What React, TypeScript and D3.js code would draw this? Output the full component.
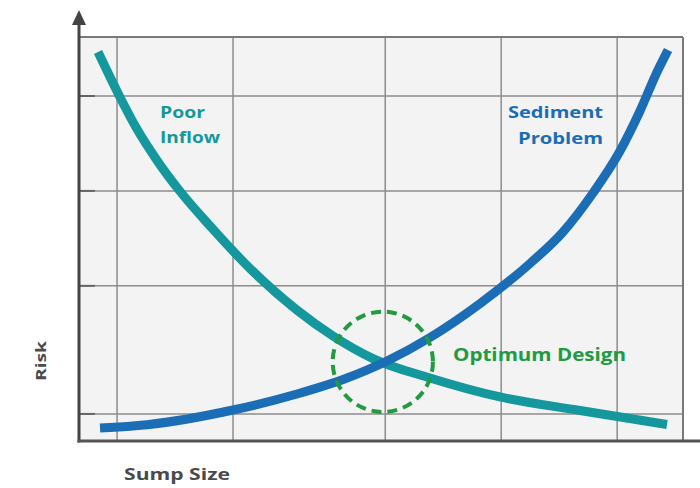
import React from "react";
import * as d3 from "d3";

// Data (x: sump size 0-100, y: risk 0-100)
const poorInflowX = [3.15, 6.79, 9.6, 13.08, 16.72, 22.19, 28.31, 36.09, 42.05, 48.68, 58.11, 69.7, 82.95, 97.35];
const poorInflowY = [96.3, 85.1, 77.2, 69.1, 61.8, 52.4, 42.7, 32.4, 26.0, 20.4, 15.6, 10.9, 7.55, 4.08];
const sedimentX = [3.48, 11.26, 25.5, 36.09, 44.37, 50.99, 58.11, 66.39, 74.67, 80.13, 85.1, 89.57, 92.88, 95.7, 97.52];
const sedimentY = [3.22, 4.03, 7.67, 11.63, 15.59, 19.8, 25.62, 34.03, 43.94, 51.73, 61.39, 71.78, 81.68, 91.34, 96.78];
const xGrid = [6.3, 25.5, 50.7, 69.9, 89.1];
const yGrid = [85.4, 61.9, 38.4, 6.7];
const optimum = { x: 50.3, y: 19.6, r: 8.3 };
const labels = {
  poor: ["Poor", "Inflow"],
  sediment: ["Sediment", "Problem"],
  optimum: "Optimum Design",
  xTitle: "Sump Size",
  yTitle: "Risk",
};

const W = 700;
const H = 488;
const left = 79;
const right = 683;
const top = 37;
const bottom = 441;

export default function App() {
  const x = d3.scaleLinear().domain([0, 100]).range([left, right]);
  const y = d3.scaleLinear().domain([0, 100]).range([bottom, top]);
  const line = d3
    .line<[number, number]>()
    .x((d) => x(d[0]))
    .y((d) => y(d[1]))
    .curve(d3.curveMonotoneX);
  const poorPts = poorInflowX.map((v, i) => [v, poorInflowY[i]] as [number, number]);
  const sedPts = sedimentX.map((v, i) => [v, sedimentY[i]] as [number, number]);
  const font = "'Open Sans', 'DejaVu Sans', sans-serif";
  const teal = "#15989d";
  const blue = "#1b6db6";
  const green = "#219a41";
  const rPx = x(optimum.r) - x(0);

  return (
    <svg
      width={W}
      height={H}
      style={{ position: "absolute", left: 0, top: 0, background: "#fff" }}
      fontFamily={font}
    >
      <rect x={left} y={top} width={right - left} height={bottom - top} fill="#f3f3f3" />
      {xGrid.map((g, i) => (
        <line key={"xg" + i} x1={x(g)} x2={x(g)} y1={top} y2={bottom} stroke="#8c8c8c" strokeWidth={1.5} />
      ))}
      {yGrid.map((g, i) => (
        <line key={"yg" + i} x1={left} x2={right} y1={y(g)} y2={y(g)} stroke="#8c8c8c" strokeWidth={1.5} />
      ))}
      {yGrid.map((g, i) => (
        <line key={"yt" + i} x1={left} x2={left + 16} y1={y(g)} y2={y(g)} stroke="#666" strokeWidth={2} />
      ))}
      <line x1={left} x2={right} y1={top} y2={top} stroke="#7a7a7a" strokeWidth={2} />
      <line x1={right} x2={right} y1={top} y2={bottom} stroke="#7a7a7a" strokeWidth={2} />
      {/* axes */}
      <line x1={left} x2={left} y1={22} y2={bottom + 1.5} stroke="#444" strokeWidth={3} />
      <path d={`M${left},10 L${left - 7},25 L${left + 7},25 Z`} fill="#444" />
      <line x1={left - 1.5} x2={700} y1={bottom} y2={bottom} stroke="#555" strokeWidth={3} />
      {/* curves */}
      <path d={line(poorPts) || ""} fill="none" stroke={teal} strokeWidth={9} strokeLinecap="butt" />
      <path d={line(sedPts) || ""} fill="none" stroke={blue} strokeWidth={9} strokeLinecap="butt" />
      {/* optimum circle */}
      <circle
        cx={x(optimum.x)}
        cy={y(optimum.y)}
        r={rPx}
        fill="none"
        stroke={green}
        strokeWidth={4}
        strokeDasharray="10 6"
      />
      {/* labels */}
      <text x={160} y={118} fill={teal} fontSize={16} fontWeight="bold" textLength={45} lengthAdjust="spacingAndGlyphs">
        {labels.poor[0]}
      </text>
      <text x={160} y={143} fill={teal} fontSize={16} fontWeight="bold" textLength={60} lengthAdjust="spacingAndGlyphs">
        {labels.poor[1]}
      </text>
      <text x={603} y={118} fill={blue} fontSize={16} fontWeight="bold" textAnchor="end" textLength={95} lengthAdjust="spacingAndGlyphs">
        {labels.sediment[0]}
      </text>
      <text x={603} y={144} fill={blue} fontSize={16} fontWeight="bold" textAnchor="end" textLength={85} lengthAdjust="spacingAndGlyphs">
        {labels.sediment[1]}
      </text>
      <text x={453} y={361} fill={green} fontSize={17} fontWeight="bold" textLength={173} lengthAdjust="spacingAndGlyphs">
        {labels.optimum}
      </text>
      <text x={124} y={480} fill="#4a4a4a" fontSize={16} fontWeight="bold" textLength={106} lengthAdjust="spacingAndGlyphs">
        {labels.xTitle}
      </text>
      <text
        transform="translate(46,361) rotate(-90)"
        textAnchor="middle"
        fill="#4a4a4a"
        fontSize={15}
        fontWeight="bold"
        textLength={40}
        lengthAdjust="spacingAndGlyphs"
      >
        {labels.yTitle}
      </text>
    </svg>
  );
}
